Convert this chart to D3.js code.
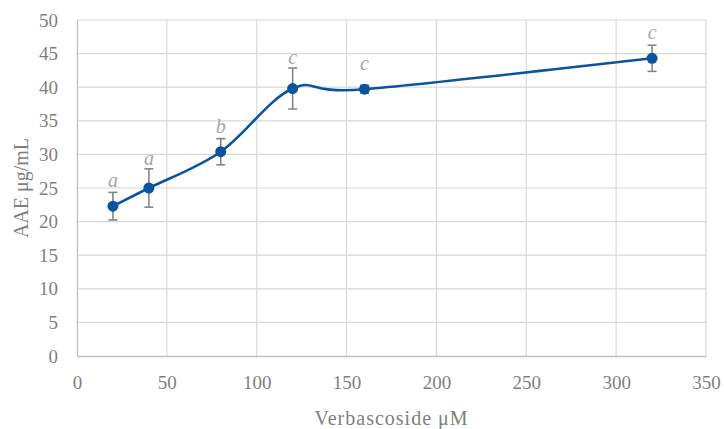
<!DOCTYPE html>
<html>
<head>
<meta charset="utf-8">
<script src="https://cdn.jsdelivr.net/npm/d3@7"></script>
<style>
  html, body { margin: 0; padding: 0; background: #fff; }
  svg { display: block; }
  text { font-family: "Liberation Serif", "DejaVu Serif", serif; }
</style>
</head>
<body>
<svg id="chart" width="724" height="429"></svg>
<script>
// Verbascoside concentration (µM) and antioxidant activity (AAE µg/mL)
const concentration = [20, 40, 80, 120, 160, 320];
const aaeMean = [22.3, 25.0, 30.4, 39.8, 39.7, 44.3];
const aaeSD = [2.05, 2.85, 1.95, 3.05, 0.6, 1.95];
const groupLetters = ["a", "a", "b", "c", "c", "c"];
const xTicks = [0, 50, 100, 150, 200, 250, 300, 350];
const yTicks = [0, 5, 10, 15, 20, 25, 30, 35, 40, 45, 50];

const svg = d3.select("#chart");
const plot = { left: 77, right: 706, top: 20, bottom: 356 };

const x = d3.scaleLinear().domain([0, 350]).range([plot.left, plot.right]);
const y = d3.scaleLinear().domain([0, 50]).range([plot.bottom, plot.top]);

const textGrey = "#7f7f7f";

// gridlines
svg.append("g")
  .selectAll("line.h")
  .data(yTicks.filter(d => d > 0))
  .join("line")
  .attr("x1", plot.left).attr("x2", plot.right)
  .attr("y1", d => y(d)).attr("y2", d => y(d))
  .attr("stroke", "#d9d9d9").attr("stroke-width", 1.2);

svg.append("g")
  .selectAll("line.v")
  .data(xTicks.filter(d => d > 0))
  .join("line")
  .attr("x1", d => x(d)).attr("x2", d => x(d))
  .attr("y1", plot.top).attr("y2", plot.bottom)
  .attr("stroke", "#d9d9d9").attr("stroke-width", 1.2);

// axes
const xAxis = svg.append("g")
  .attr("transform", `translate(0,${plot.bottom})`)
  .call(d3.axisBottom(x).tickValues(xTicks).tickSize(0).tickPadding(20));
const yAxis = svg.append("g")
  .attr("transform", `translate(${plot.left},0)`)
  .call(d3.axisLeft(y).tickValues(yTicks).tickSize(0).tickPadding(19));

[xAxis, yAxis].forEach(g => {
  g.select(".domain").attr("stroke", "#bfbfbf").attr("stroke-width", 1.3);
  g.selectAll("text")
    .attr("fill", textGrey)
    .style("font-family", "'Liberation Serif', serif")
    .style("font-size", "19px");
});

// axis titles
svg.append("text")
  .attr("x", (plot.left + plot.right) / 2 + 0)
  .attr("y", 425)
  .attr("text-anchor", "middle")
  .attr("fill", textGrey)
  .style("font-size", "20px")
  .style("letter-spacing", "1px")
  .text("Verbascoside μM");

svg.append("text")
  .attr("transform", `translate(28,${(plot.top + plot.bottom) / 2}) rotate(-90)`)
  .attr("text-anchor", "middle")
  .attr("fill", textGrey)
  .style("font-size", "20px")
  .text("AAE μg/mL");

const pts = concentration.map((c, i) => ({ c, m: aaeMean[i], sd: aaeSD[i], g: groupLetters[i] }));

// smoothed line
const line = d3.line()
  .x(d => x(d.c))
  .y(d => y(d.m))
  .curve(d3.curveCardinal.tension(0));

svg.append("path")
  .datum(pts)
  .attr("d", line)
  .attr("fill", "none")
  .attr("stroke", "#0a539f")
  .attr("stroke-width", 2.6);

// error bars
const eb = svg.append("g").attr("stroke", "#7f7f7f").attr("stroke-width", 1.5);
pts.forEach(d => {
  const cx = x(d.c), top = y(d.m + d.sd), bot = y(d.m - d.sd);
  eb.append("line").attr("x1", cx).attr("x2", cx).attr("y1", top).attr("y2", bot);
  eb.append("line").attr("x1", cx - 4.5).attr("x2", cx + 4.5).attr("y1", top).attr("y2", top);
  eb.append("line").attr("x1", cx - 4.5).attr("x2", cx + 4.5).attr("y1", bot).attr("y2", bot);
});

// markers
svg.append("g")
  .selectAll("circle")
  .data(pts)
  .join("circle")
  .attr("cx", d => x(d.c))
  .attr("cy", d => y(d.m))
  .attr("r", 5.5)
  .attr("fill", "#0a539f");

// significance letters
svg.append("g")
  .selectAll("text")
  .data(pts)
  .join("text")
  .attr("x", d => x(d.c))
  .attr("y", d => Math.min(y(d.m) - 19, y(d.m + d.sd) - 4))
  .attr("text-anchor", "middle")
  .attr("fill", "#a6a6a6")
  .style("font-style", "italic")
  .style("font-size", "20px")
  .text(d => d.g);
</script>
</body>
</html>
